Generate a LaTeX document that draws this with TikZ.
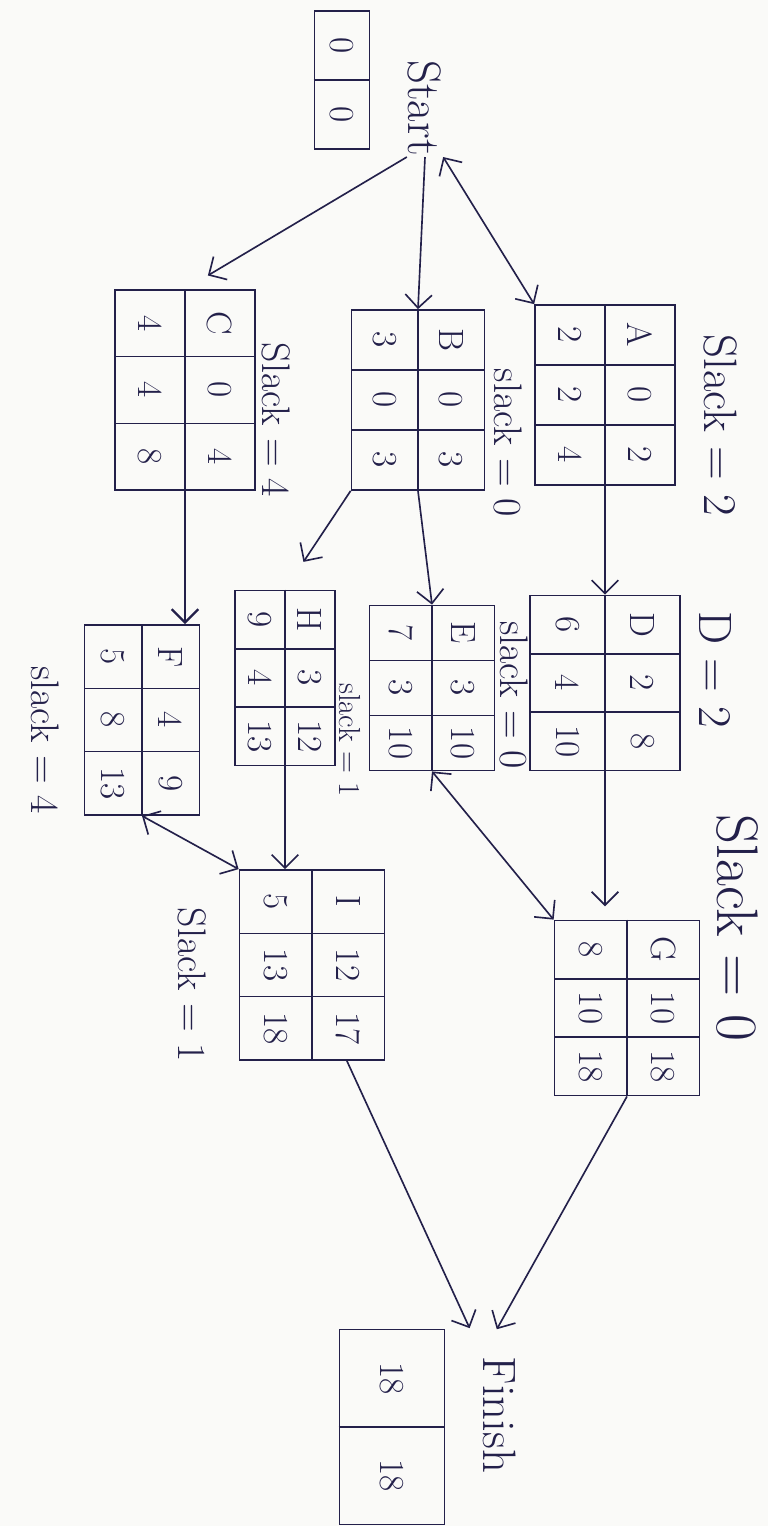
\documentclass[tikz,border=0pt]{standalone}
\usepackage{tikz}
\usetikzlibrary{arrows.meta,calc}
\definecolor{ink}{HTML}{23204A}
\definecolor{paper}{HTML}{FAFAF8}
\newcommand{\pxu}{0.03cm}
\tikzset{
  act/.style  = {draw=ink, line width=1.5pt, inner sep=0pt},
  cell/.style = {draw=ink, line width=1.3pt},
  val/.style  = {rotate=-90, text=ink, inner sep=0pt,
                 font=\fontsize{30}{32}\selectfont},
  lab/.style  = {rotate=-90, text=ink, inner sep=1pt,
                 font=\fontsize{40}{44}\selectfont},
  labs/.style = {lab, font=\fontsize{34}{38}\selectfont},
  labt/.style = {lab, font=\fontsize{26}{30}\selectfont},
  arr/.style  = {-{Straight Barb[length=4mm,width=8mm]}, draw=ink, line width=1.4pt},
  darr/.style = {{Straight Barb[length=4mm,width=8mm]}-{Straight Barb[length=4mm,width=8mm]},
                 draw=ink, line width=1.4pt},
}
\newcommand{\actbox}[7]{%        % #1 = name, #2/#3 = centre, #4/#5 = size, #6 = right col, #7 = left col
  \node[act, minimum width=#4*\pxu, minimum height=#5*\pxu] (#1) at (#2,#3) {};
  \draw[cell] (#1.north) -- (#1.south);
  \draw[cell] ({#2-#4/2},{#3-#5/6}) -- ({#2+#4/2},{#3-#5/6});
  \draw[cell] ({#2-#4/2},{#3+#5/6}) -- ({#2+#4/2},{#3+#5/6});
  \foreach \v [count=\i] in {#6}{\node[val] at ({#2+#4/4},{#3+(\i-2)*#5/3}) {\v};}
  \foreach \v [count=\i] in {#7}{\node[val] at ({#2-#4/4},{#3+(\i-2)*#5/3}) {\v};}}
\newcommand{\evtbox}[7]{%        % #1 = name, #2/#3 = centre, #4/#5 = size, #6 = top, #7 = bottom
  \node[act, minimum width=#4*\pxu, minimum height=#5*\pxu] (#1) at (#2,#3) {};
  \draw[cell] (#1.west) -- (#1.east);
  \node[val] at (#2,{#3-#5/4}) {#6};
  \node[val] at (#2,{#3+#5/4}) {#7};}

\begin{document}
\begin{tikzpicture}[x=0.03cm,y=-0.03cm]
  \fill[paper] (0,0) rectangle (768,1526);
  \useasboundingbox (0,0) rectangle (768,1526);

  % events
  \evtbox{s0}{342}{80}{55}{138}{0}{0}
  \evtbox{f0}{392}{1427}{105}{195}{18}{18}
  \node[lab] (start)  at (425,108)  {Start};
  \node[lab] (finish) at (500,1415) {Finish};

  % activities
  \actbox{A}{605}{395}{140}{180}{A,0,2}{2,2,4}
  \actbox{B}{418}{400}{133}{180}{B,0,3}{3,0,3}
  \actbox{C}{185}{390}{140}{200}{C,0,4}{4,4,8}
  \actbox{D}{605}{683}{150}{175}{D,2,8}{6,4,10}
  \actbox{E}{432}{688}{125}{165}{E,3,10}{7,3,10}
  \actbox{H}{285}{678}{100}{175}{H,3,12}{9,4,13}
  \actbox{F}{142}{720}{115}{190}{F,4,9}{5,8,13}
  \actbox{G}{627}{1008}{145}{175}{G,10,18}{8,10,18}
  \actbox{I}{312}{965}{145}{190}{I,12,17}{5,13,18}

  % slack notes
  \node[lab]  (slA) at (720,425) {Slack = 2};
  \node[labs] (slB) at (508,443) {slack = 0};
  \node[labs] (slC) at (276,420) {Slack = 4};
  \node[lab]  (slD) at (715,670) {D = 2};
  \node[labs] (slE) at (514,695) {slack = 0};
  \node[labt] (slH) at (350,740) {slack = 1};
  \node[labs] (slF) at (45,740)  {slack = 4};
  \node[lab, font=\fontsize{50}{54}\selectfont] (slG) at (737,928) {Slack = 0};
  \node[labs] (slI) at (192,985) {Slack = 1};

  % connectors
  \draw[arr]  (start.east) -- (B.north);
  \draw[darr] (start.north east) -- (A.north west);
  \draw[arr, shorten >=0.8cm] (start.south east) -- (C.north);
  \draw[arr]  (A.south) -- (D.north);
  \draw[arr]  (B.south) -- (E.north);
  \draw[arr, shorten >=1cm] (B.south west) -- (H.north);
  \draw[arr, line width=2pt] (C.south) -- (C.south |- F.north);
  \draw[arr, shorten >=0.4cm] (D.south) -- (D.south |- G.north);
  \draw[darr] (E.south) -- (G.north west);
  \draw[arr]  (H.south) -- (H.south |- I.north);
  \draw[darr] (F.south) -- (I.north west);
  \draw[arr, shorten >=0.9cm] (G.south) -- (finish.south west);
  \draw[arr, shorten >=0.9cm] (I.-70) -- (finish.south west);
\end{tikzpicture}
\end{document}
